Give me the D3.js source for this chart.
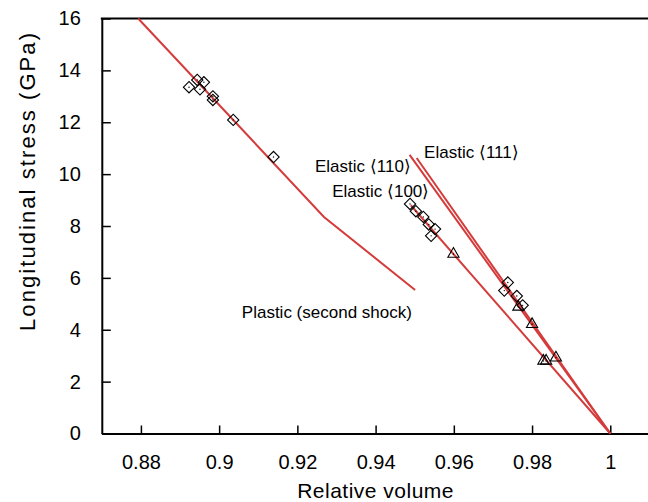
<!DOCTYPE html>
<html>
<head>
<meta charset="utf-8">
<script src="https://cdn.jsdelivr.net/npm/d3@7"></script>
<style>
  body { margin: 0; background: #fff; }
  svg { display: block; font-family: "Liberation Sans", Arial, Helvetica, sans-serif; }
</style>
</head>
<body>
<div id="chart"></div>
<script>
// Shock data: stress vs relative volume
const xTicks = [0.88, 0.9, 0.92, 0.94, 0.96, 0.98, 1.0];
const xTickLabels = ['0.88', '0.9', '0.92', '0.94', '0.96', '0.98', '1'];
const yTicks = [0, 2, 4, 6, 8, 10, 12, 14, 16];
const yTickLabels = ['0', '2', '4', '6', '8', '10', '12', '14', '16'];

// Model curves
const plasticVolume = [0.8793, 0.9268, 0.9501];
const plasticStress = [16.0, 8.35, 5.53];
const elastic100Volume = [0.9490, 1.0];
const elastic100Stress = [8.80, 0];
const elastic110Volume = [0.9487, 1.0];
const elastic110Stress = [10.74, 0];
const elastic111Volume = [0.9505, 1.0];
const elastic111Stress = [10.62, 0];

// Measurements
const diamondVolume = [0.8923, 0.8944, 0.8961, 0.8951, 0.8984, 0.8984, 0.9036, 0.9139,
  0.9488, 0.9503, 0.9522, 0.9536, 0.9552, 0.9542,
  0.9738, 0.9729, 0.9761, 0.9776];
const diamondStress = [13.35, 13.63, 13.54, 13.27, 13.00, 12.86, 12.09, 10.66,
  8.85, 8.57, 8.35, 8.06, 7.88, 7.62,
  5.82, 5.51, 5.30, 4.94];
const triangleVolume = [0.9599, 0.9765, 0.9800, 0.9829, 0.9836, 0.9861];
const triangleStress = [6.92, 4.88, 4.21, 2.80, 2.80, 2.92];

// Curve labels (text, volume, stress at baseline start)
const labelTexts = ['Elastic \u27E8111\u27E9', 'Elastic \u27E8110\u27E9', 'Elastic \u27E8100\u27E9', 'Plastic (second shock)'];
const labelVolume = [0.9524, 0.9245, 0.9289, 0.9058];
const labelStress = [10.61, 10.10, 9.13, 4.47];

const width = 648;
const height = 502;
const lineColor = '#d43b3b';

const svg = d3.select('#chart')
  .append('svg')
  .attr('width', width)
  .attr('height', height);

const x = d3.scaleLinear().domain([0.87, 1.01]).range([101.8, 649.4]);
const y = d3.scaleLinear().domain([0, 16]).range([433.5, 18.5]);

// Axes (ticks point inward)
const xAxis = svg.append('g')
  .attr('transform', `translate(0,${y(0)})`)
  .call(d3.axisBottom(x)
    .tickValues(xTicks)
    .tickFormat((d, i) => xTickLabels[i])
    .tickSizeInner(-8)
    .tickSizeOuter(0)
    .tickPadding(21));

const yAxis = svg.append('g')
  .attr('transform', `translate(${x(0.87)},0)`)
  .call(d3.axisLeft(y)
    .tickValues(yTicks)
    .tickFormat((d, i) => yTickLabels[i])
    .tickSizeInner(-9)
    .tickSizeOuter(0)
    .tickPadding(21));

[xAxis, yAxis].forEach(g => {
  g.select('.domain').attr('stroke', '#000').attr('stroke-width', 2);
  g.selectAll('.tick line').attr('stroke', '#000').attr('stroke-width', 1.5);
  g.selectAll('.tick text')
    .attr('fill', '#000')
    .attr('font-size', 20)
    .attr('font-family', '"Liberation Sans", Arial, sans-serif');
});

// top frame line
svg.append('line')
  .attr('x1', x(0.87) - 1).attr('x2', width)
  .attr('y1', y(16)).attr('y2', y(16))
  .attr('stroke', '#000')
  .attr('stroke-width', 2);

// Axis titles
svg.append('text')
  .attr('x', x(0.94))
  .attr('y', 498)
  .attr('text-anchor', 'middle')
  .attr('font-size', 21)
  .attr('letter-spacing', 0.5)
  .text('Relative volume');

svg.append('text')
  .attr('transform', `translate(35,${182})rotate(-90)`)
  .attr('text-anchor', 'middle')
  .attr('font-size', 22)
  .attr('textLength', 298)
  .attr('lengthAdjust', 'spacing')
  .text('Longitudinal stress (GPa)');

// Curves
const line = d3.line()
  .x(d => x(d[0]))
  .y(d => y(d[1]));

const curves = [
  [plasticVolume, plasticStress],
  [elastic100Volume, elastic100Stress],
  [elastic110Volume, elastic110Stress],
  [elastic111Volume, elastic111Stress]
];

svg.append('g')
  .selectAll('path')
  .data(curves)
  .join('path')
  .attr('d', c => line(d3.zip(c[0], c[1])))
  .attr('fill', 'none')
  .attr('stroke', lineColor)
  .attr('stroke-width', 2);

// Markers
const markers = svg.append('g');

const diamond = d3.symbol().type(d3.symbolSquare).size(64);
const triangle = d3.symbol().type(d3.symbolTriangle).size(54);

const diamonds = markers.selectAll('.diamond')
  .data(d3.zip(diamondVolume, diamondStress))
  .join('g')
  .attr('class', 'diamond')
  .attr('transform', d => `translate(${x(d[0])},${y(d[1])})`);

diamonds.append('path')
  .attr('d', diamond)
  .attr('transform', 'rotate(45)')
  .attr('fill', 'none')
  .attr('stroke', '#000')
  .attr('stroke-width', 1.1);

const triangles = markers.selectAll('.triangle')
  .data(d3.zip(triangleVolume, triangleStress))
  .join('g')
  .attr('class', 'triangle')
  .attr('transform', d => `translate(${x(d[0])},${y(d[1])})`);

triangles.append('path')
  .attr('d', triangle)
  .attr('fill', 'none')
  .attr('stroke', '#000')
  .attr('stroke-width', 1.1);

// small centre dot on each marker
markers.selectAll('g').append('circle')
  .attr('r', 0.7)
  .attr('fill', '#000');

// Curve labels
svg.append('g')
  .selectAll('text')
  .data(labelTexts)
  .join('text')
  .attr('x', (d, i) => x(labelVolume[i]))
  .attr('y', (d, i) => y(labelStress[i]))
  .attr('font-size', 17)
  .attr('fill', '#000')
  .text(d => d);
</script>
</body>
</html>
